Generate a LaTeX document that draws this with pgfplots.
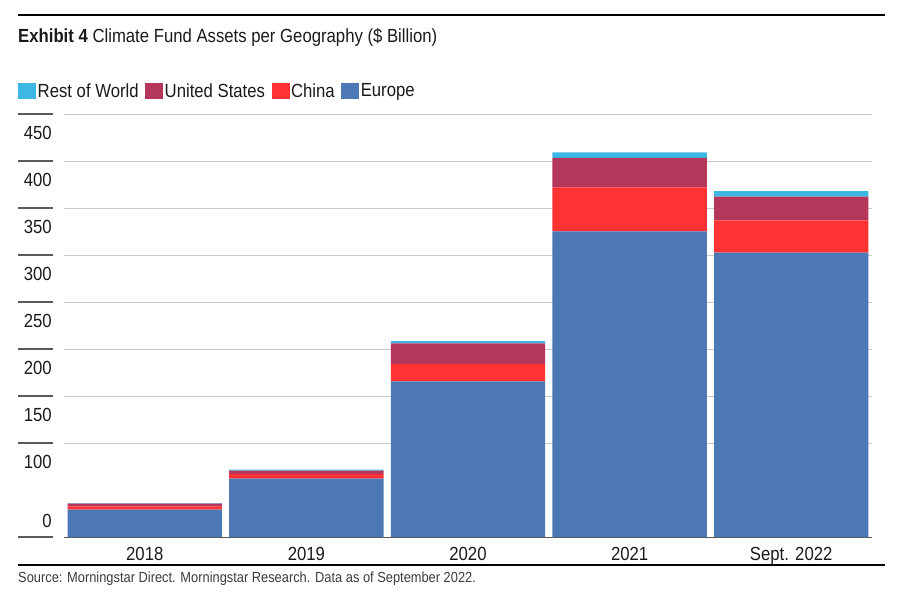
\documentclass[border=0pt]{standalone}
\usepackage{fontspec}
\setmainfont{Liberation Sans}[FakeStretch=0.88]
\usepackage{pgfplots}
\pgfplotsset{compat=1.18}

\definecolor{row}{HTML}{3DB7E4}
\definecolor{usa}{HTML}{B5365B}
\definecolor{chn}{HTML}{FF3333}
\definecolor{eur}{HTML}{4C78B5}
\definecolor{gridc}{HTML}{CACACA}
\definecolor{tickc}{HTML}{5A5A5A}
\definecolor{txt}{HTML}{1A1A1A}

\newcommand{\lab}{\fontsize{19}{21}\selectfont}

\begin{document}
\begin{tikzpicture}[x=1pt,y=1pt]
\begin{axis}[
    scale only axis, width=808pt, height=423pt,
    at={(0,0)}, anchor=south west,
    xmin=-0.5, xmax=4.5, ymin=0, ymax=450,
    ybar stacked, bar width=0.955,
    clip=false,
    axis x line*=bottom, axis y line*=left,
    x axis line style={tickc, line width=0.6pt},
    y axis line style={draw=none},
    xtick={0,...,4},
    xticklabels={2018,2019,2020,2021,Sept. 2022},
    xtick style={draw=none},
    xticklabel style={anchor=base, yshift=-23pt, font=\lab, text=txt},
    ytick={100,150,...,450},
    yticklabels={},
    ytick style={draw=none},
    ymajorgrids, grid style={gridc, line width=0.7pt},
    legend style={at={(-0.0569,1.0544)}, anchor=west, draw=none, fill=none,
        font=\lab, text=txt, legend columns=-1, inner sep=0pt,
        nodes={inner sep=1.5pt},
        /tikz/every odd column/.append style={column sep=0pt},
        /tikz/every even column/.append style={column sep=5pt}},
    reverse legend,
    legend image code/.code={\fill[#1] (0pt,-8pt) rectangle (18pt,8pt);},
]
\addplot[fill=eur, draw=none] coordinates {(0,29) (1,62) (2,165.6) (3,325.2) (4,302.4)};
\addplot[fill=chn, draw=none] coordinates {(0,3.5) (1,5) (2,18.7) (3,46.8) (4,34.5)};
\addplot[fill=usa, draw=none] coordinates {(0,3) (1,3.5) (2,21.7) (3,31.3) (4,25.1)};
\addplot[fill=row, draw=none] coordinates {(0,0.5) (1,1.2) (2,2.5) (3,6) (4,6)};
\legend{Europe, China, United States, Rest of World}

\pgfplotsinvokeforeach{100,150,...,450}{
  \draw[tickc, line width=1.6pt] ([xshift=-46pt]axis cs:-0.5,#1) -- ([xshift=-11pt]axis cs:-0.5,#1);
  \node[anchor=east, inner sep=0pt, font=\lab, text=txt] at ([xshift=-12pt, yshift=-19pt]axis cs:-0.5,#1) {#1};
}
\draw[tickc, line width=1.6pt] ([xshift=-46pt]axis cs:-0.5,0) -- ([xshift=-11pt]axis cs:-0.5,0);
\node[anchor=east, inner sep=0pt, font=\lab, text=txt] at ([xshift=-12pt, yshift=16pt]axis cs:-0.5,0) {0};
\end{axis}

% frame rules, title and source
\draw[black, line width=1.2pt] (-46,522) -- (821,522);
\node[anchor=base west, inner sep=0pt, font=\lab, text=txt] at (-46,494)
  {\textbf{Exhibit 4} Climate Fund Assets per Geography (\$ Billion)};
\draw[black, line width=1.2pt] (-46,-28) -- (821,-28);
\node[anchor=base west, inner sep=0pt, font=\fontsize{14.6}{16}\selectfont, text=txt!85] at (-46,-45)
  {Source: Morningstar Direct. Morningstar Research. Data as of September 2022.};

\pgfresetboundingbox
\path[use as bounding box] (-64,-58) rectangle (839,537);
\end{tikzpicture}
\end{document}
